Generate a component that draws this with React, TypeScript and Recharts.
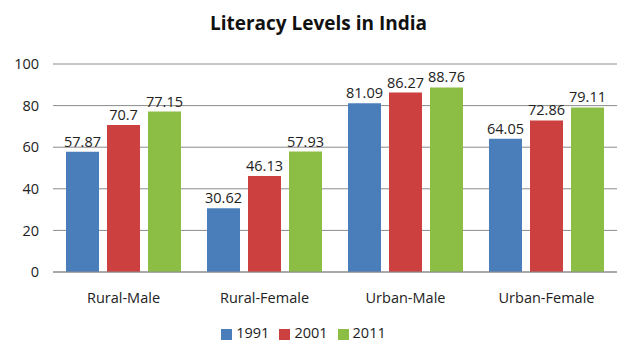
import React from 'react';
import { BarChart, Bar, XAxis, YAxis, CartesianGrid, Legend, LabelList } from 'recharts';

const categories = ['Rural-Male', 'Rural-Female', 'Urban-Male', 'Urban-Female'];
const y1991 = [57.87, 30.62, 81.09, 64.05];
const y2001 = [70.7, 46.13, 86.27, 72.86];
const y2011 = [77.15, 57.93, 88.76, 79.11];
const yTicks = [0, 20, 40, 60, 80, 100];

const data = categories.map((name, i) => ({
  name,
  '1991': y1991[i],
  '2001': y2001[i],
  '2011': y2011[i],
}));

const font = '"Open Sans", "DejaVu Sans", sans-serif';
const fs = 14.5;

export default function App() {
  return (
    <div style={{ position: 'absolute', left: 0, top: 0, width: 637, height: 360, background: '#fff', fontFamily: font }}>
      <div
        style={{
          position: 'absolute',
          top: 10,
          left: 0,
          width: 637,
          textAlign: 'center',
          fontSize: 19,
          fontWeight: 'bold',
          color: '#111',
        }}
      >
        Literacy Levels in India
      </div>
      <BarChart
        width={637}
        height={360}
        data={data}
        margin={{ top: 64, right: 20, left: 0, bottom: 18 }}
        barCategoryGap={13}
        barGap={8}
      >
        <CartesianGrid vertical={false} stroke="#8c8c8c" />
        <XAxis
          dataKey="name"
          tickLine={false}
          axisLine={{ stroke: '#8c8c8c' }}
          tick={{ fill: '#222', fontSize: fs, fontFamily: font }}
          tickMargin={15}
          height={51}
        />
        <YAxis
          domain={[0, 100]}
          ticks={yTicks}
          width={53}
          axisLine={false}
          tickLine={false}
          tick={{ fill: '#222', fontSize: fs, fontFamily: font }}
          tickMargin={8}
        />
        <Legend
          verticalAlign="bottom"
          iconType="square"
          iconSize={11}
          wrapperStyle={{ fontSize: fs, fontFamily: font, color: '#222' }}
          formatter={(v: string) => <span style={{ color: '#222' }}>{v}</span>}
        />
        <Bar dataKey="1991" fill="#4a7ebb" isAnimationActive={false}>
          <LabelList dataKey="1991" position="top" fill="#222" fontSize={fs} fontFamily={font} />
        </Bar>
        <Bar dataKey="2001" fill="#cc4140" isAnimationActive={false}>
          <LabelList dataKey="2001" position="top" fill="#222" fontSize={fs} fontFamily={font} />
        </Bar>
        <Bar dataKey="2011" fill="#8cbd45" isAnimationActive={false}>
          <LabelList dataKey="2011" position="top" fill="#222" fontSize={fs} fontFamily={font} />
        </Bar>
      </BarChart>
    </div>
  );
}
